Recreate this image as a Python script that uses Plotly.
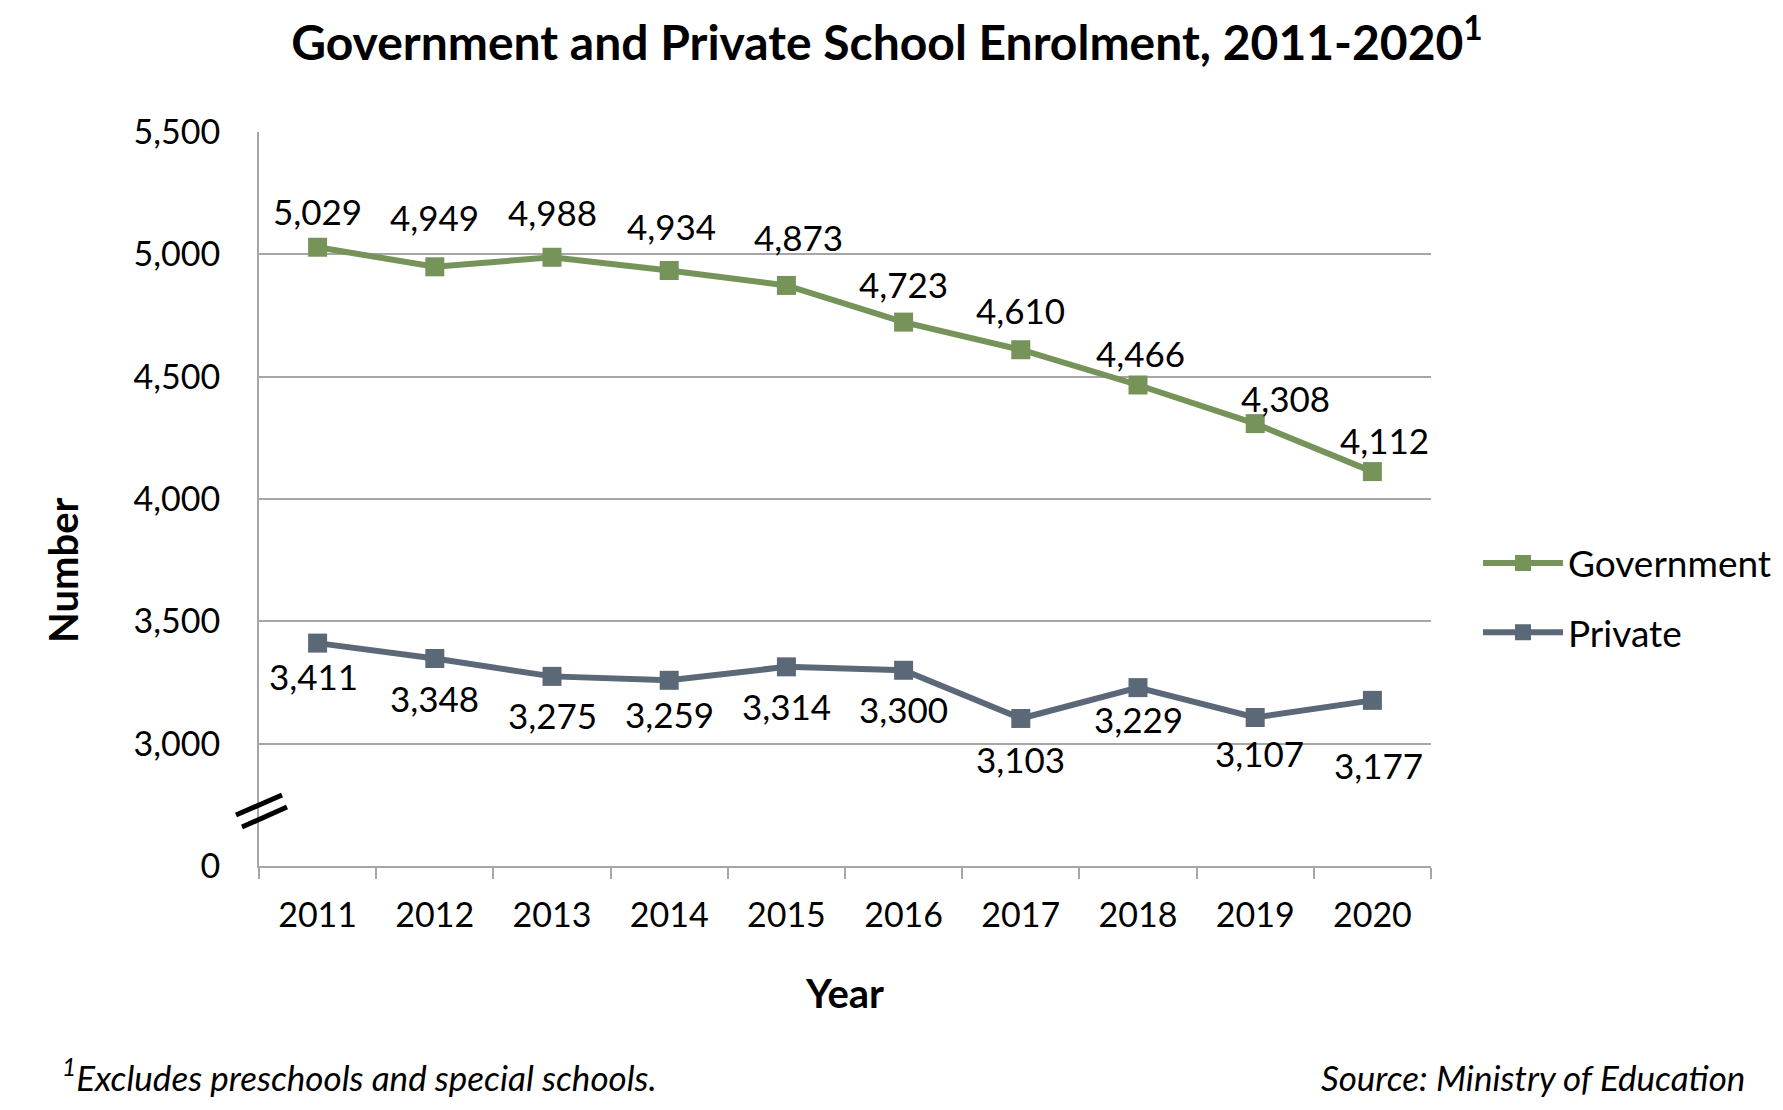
import plotly.graph_objects as go

years = ["2011", "2012", "2013", "2014", "2015", "2016", "2017", "2018", "2019", "2020"]
government = [5029, 4949, 4988, 4934, 4873, 4723, 4610, 4466, 4308, 4112]
private = [3411, 3348, 3275, 3259, 3314, 3300, 3103, 3229, 3107, 3177]
y_tickvals = [2500, 3000, 3500, 4000, 4500, 5000, 5500]
y_ticktext = ["0", "3,000", "3,500", "4,000", "4,500", "5,000", "5,500"]

# label nudges (pixels) - styling only
gov_dx = [0, 0, 0, 2, 12, 0, 0, 2, 30, 12]
gov_dy = [36, 50, 45, 44, 48, 38, 40, 32, 26, 32]
pri_dx = [-4, 0, 0, 0, 0, 0, 0, 0, 4, 6]
pri_dy = [-33, -39, -39, -34, -39, -39, -41, -31, -36, -65]

GREEN = "#76935A"
SLATE = "#5B6877"
GRID = "#A6A6A6"
FONT = "Lato"

# page body has an 8px margin; work in screen coordinates and convert
OFF = 8
W, H = 1783 - 2 * OFF, 1110 - 2 * OFF
SL, SR, ST, SB = 259, 1431, 132, 866  # plot area in screen px
L, R, T, B = SL - OFF, W - (SR - OFF), ST - OFF, H - (SB - OFF)
PW, PH = SR - SL, SB - ST


def px(xs):
    return (xs - SL) / PW


def py(ys):
    return (SB - ys) / PH


fig = go.Figure()
fig.add_trace(go.Scatter(
    x=years, y=government, name="Government", mode="lines+markers",
    line=dict(color=GREEN, width=6),
    marker=dict(symbol="square", size=19, color=GREEN),
    legendgroup="g", cliponaxis=False,
))
fig.add_trace(go.Scatter(
    x=years, y=private, name="Private", mode="lines+markers",
    line=dict(color=SLATE, width=6),
    marker=dict(symbol="square", size=19, color=SLATE),
    legendgroup="p", cliponaxis=False,
))

for series, dxs, dys in [(government, gov_dx, gov_dy), (private, pri_dx, pri_dy)]:
    for i, (v, dx, dy) in enumerate(zip(series, dxs, dys)):
        fig.add_annotation(
            x=i, y=v, xref="x", yref="y", text=f"{v:,}", showarrow=False,
            xanchor="center", yanchor="middle", xshift=dx, yshift=dy,
            font=dict(size=35, family=FONT, color="black"),
        )

fig.update_layout(
    width=W, height=H,
    margin=dict(l=L, r=R, t=T, b=B, pad=0, autoexpand=False),
    paper_bgcolor="white", plot_bgcolor="white",
    font=dict(family=FONT, size=34, color="black"),
    title=dict(
        text="<b>Government and Private School Enrolment, 2011-2020<sup>1</sup></b>",
        x=(887 - OFF) / W, xanchor="center", xref="container",
        y=1 - (43 - OFF) / H, yanchor="middle", yref="container",
        font=dict(size=48, family=FONT, color="black"),
    ),
    showlegend=True,
    legend=dict(
        x=px(1478), xanchor="left",
        y=py(598), yanchor="middle",
        font=dict(size=37, family=FONT, color="black"),
        tracegroupgap=18, bgcolor="rgba(0,0,0,0)",
        itemwidth=80,
    ),
    xaxis=dict(
        type="category", range=[-0.5, 9.5],
        showgrid=False, showline=True, linecolor=GRID, linewidth=2,
        ticks="outside", tickson="boundaries", ticklen=11, tickwidth=2, tickcolor=GRID,
        tickfont=dict(size=34, family=FONT, color="black"),
        ticklabelstandoff=18, automargin=False,
        fixedrange=True,
    ),
    yaxis=dict(
        range=[2500, 5500], tickvals=y_tickvals, ticktext=y_ticktext,
        showgrid=True, gridcolor=GRID, gridwidth=2,
        showline=True, linecolor=GRID, linewidth=2,
        ticks="", zeroline=False,
        tickfont=dict(size=34, family=FONT, color="black"),
        ticklabelstandoff=30, automargin=False,
        fixedrange=True,
    ),
)

# axis break marks
for (x0, y0, x1, y1) in [(236, 815, 282, 795), (242, 827, 287, 807)]:
    fig.add_shape(
        type="line", xref="paper", yref="paper",
        x0=px(x0), x1=px(x1), y0=py(y0), y1=py(y1),
        line=dict(color="black", width=5),
    )

fig.add_annotation(
    text="<b>Number</b>", textangle=-90, xref="paper", yref="paper",
    x=px(63), y=py(570), xanchor="center", yanchor="middle", showarrow=False,
    font=dict(size=40, family=FONT, color="black"),
)
fig.add_annotation(
    text="<b>Year</b>", xref="paper", yref="paper",
    x=px(844), y=py(993), xanchor="center", yanchor="middle", showarrow=False,
    font=dict(size=40, family=FONT, color="black"),
)
fig.add_annotation(
    text="<i><sup>1</sup>Excludes preschools and special schools.</i>", xref="paper", yref="paper",
    x=px(60), y=py(1075), xanchor="left", yanchor="middle", showarrow=False,
    font=dict(size=35, family=FONT, color="black"),
)
fig.add_annotation(
    text="<i>Source: Ministry of Education</i>", xref="paper", yref="paper",
    x=px(1747), y=py(1077), xanchor="right", yanchor="middle", showarrow=False,
    font=dict(size=35, family=FONT, color="black"),
)

fig.write_html("out.html")
